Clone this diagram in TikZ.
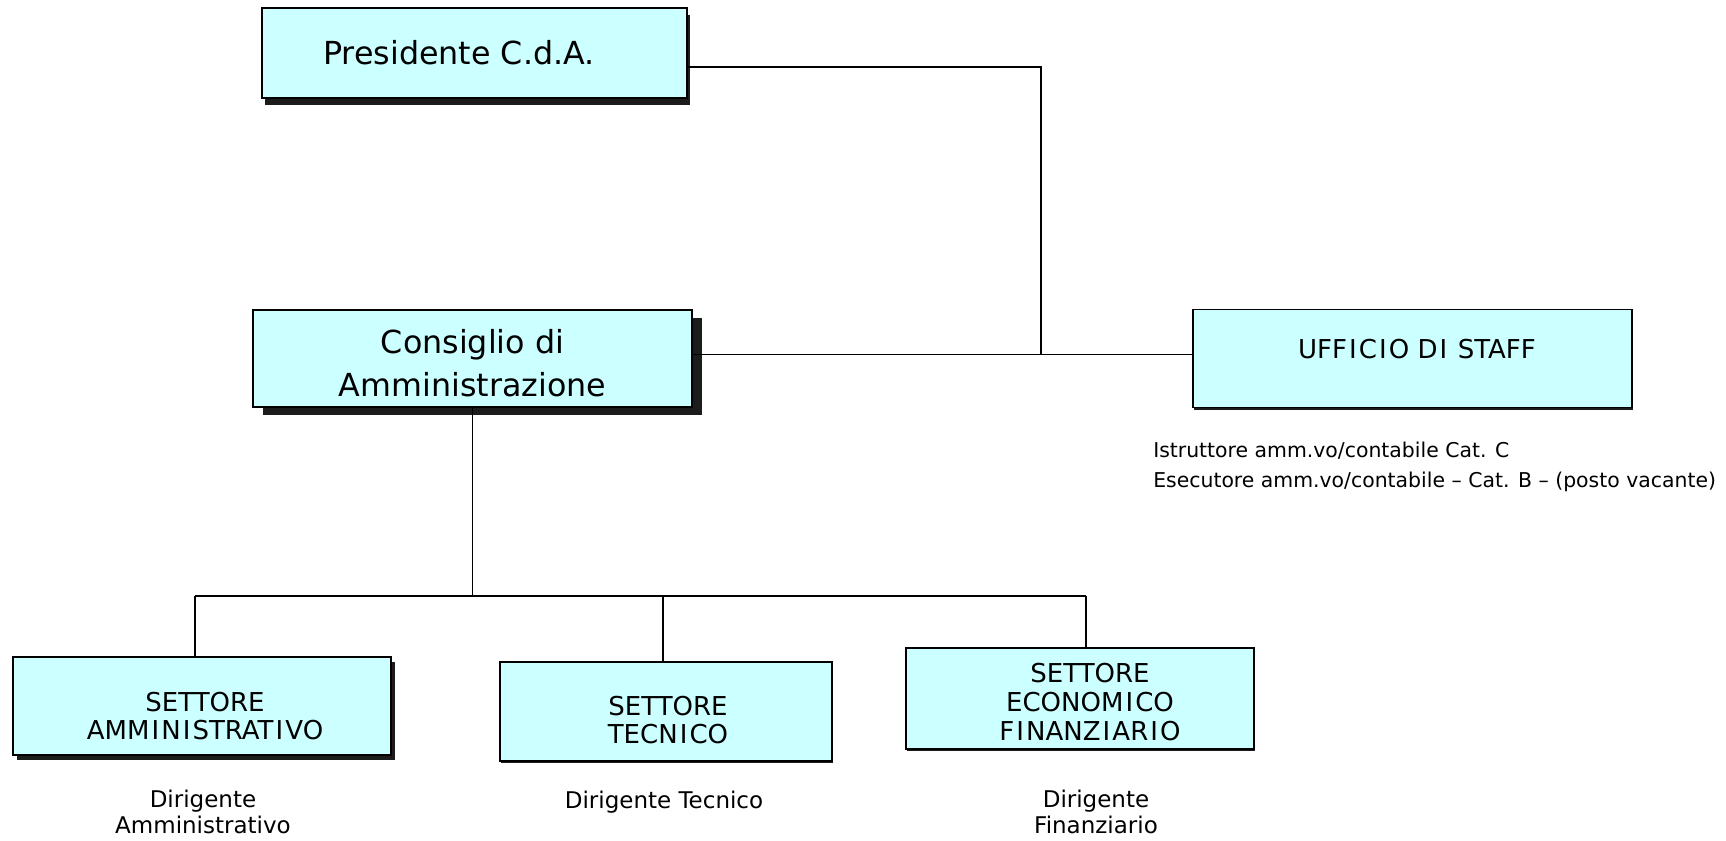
\documentclass[tikz,border=0pt]{standalone}
\usepackage{fontspec}
\setmainfont{DejaVu Sans}
\usetikzlibrary{shadows}
\definecolor{boxfill}{HTML}{CCFFFF}
\definecolor{shadowc}{HTML}{1C1C1C}
\newcommand{\wideI}{\kern0.08em I\kern0.08em}
\begin{document}
\begin{tikzpicture}[x=0.75pt,y=-0.75pt,
  box/.style={draw=black, line width=1.1pt, fill=boxfill, inner sep=0pt, outer sep=0pt},
  shad/.style 2 args={drop shadow={shadow xshift=#1, shadow yshift=#2, fill=shadowc, opacity=1}},
  conn/.style={draw=black, line width=1.2pt},
  busline/.style={draw=black, line width=1.5pt},
  bigtext/.style={font=\fontsize{23.8pt}{32pt}\selectfont, align=center, inner sep=0pt},
  capstext/.style={font=\fontsize{19.5pt}{21.6pt}\selectfont, align=center, inner sep=0pt},
  dirtext/.style={font=\fontsize{17.25pt}{20pt}\selectfont, align=center, inner sep=0pt},
  stafftext/.style={font=\fontsize{15.3pt}{22pt}\selectfont, align=left, inner sep=0pt, anchor=west}
]
\useasboundingbox (0,0) rectangle (1726,841);
\fill[white] (0,0) rectangle (1726,841);

% boxes
\node[box, shad={2.25pt}{-5.25pt}, minimum width=318.75pt, minimum height=67.5pt] (pres) at (474.5,53) {};
\node[box, shad={7.5pt}{-6pt}, minimum width=329.25pt, minimum height=73pt] (cons) at (472.5,358.5) {};
\node[box, shad={1.1pt}{-1.5pt}, minimum width=329.25pt, minimum height=73.5pt] (staff) at (1412.5,358.5) {};
\node[box, shad={3pt}{-3.75pt}, minimum width=283.5pt, minimum height=73.5pt] (sa) at (202,706) {};
\node[box, shad={1.1pt}{-1.5pt}, minimum width=249pt, minimum height=74.25pt] (st) at (666,711.5) {};
\node[box, shad={1.1pt}{-1.5pt}, minimum width=261pt, minimum height=75.75pt] (sef) at (1080,698.5) {};

% box texts
\node[bigtext] (presT) at (459,52.5) {Presidente C.d.A.};
\node[bigtext] (consT) at (472.5,363.5) {Consiglio di\\Amministrazione};
\node[capstext] (staffT) at (1417,349) {UFF\wideI C\wideI O D\wideI\ STAFF};
\node[capstext] (saT) at (205,716) {SETTORE\\AMM\wideI N\wideI STRAT\wideI VO};
\node[capstext] (stT) at (668,720) {SETTORE\\TECN\wideI CO};
\node[capstext] (sefT) at (1090,702) {SETTORE\\ECONOM\wideI CO\\F\wideI NANZ\wideI AR\wideI O};

% labels under boxes
\node[stafftext] (staffL) at (1153,467) {Istruttore amm.vo/contabile Cat. C\\Esecutore amm.vo/contabile – Cat. B – (posto vacante)};
\node[dirtext] (saL) at (203,812) {Dirigente\\Amministrativo};
\node[dirtext] (stL) at (664,802) {Dirigente Tecnico};
\node[dirtext] (sefL) at (1096,812) {Dirigente\\Finanziario};

% connectors
\coordinate (J) at (1041,354.5);
\coordinate (bL) at (195,596);
\coordinate (bM) at (663,596);
\coordinate (bR) at (1086,596);
\draw[conn] ([yshift=-10.5pt]pres.east) -| (J);
\draw[conn] (cons.east |- J) -- (staff.west |- J);
\draw[conn] (cons.south) -- (cons.south |- bL);
\draw[busline] (bL) -- (bR);
\draw[conn] (bL) -- (bL |- sa.north);
\draw[conn] (bM) -- (bM |- st.north);
\draw[conn] (bR) -- (bR |- sef.north);
\end{tikzpicture}
\end{document}
